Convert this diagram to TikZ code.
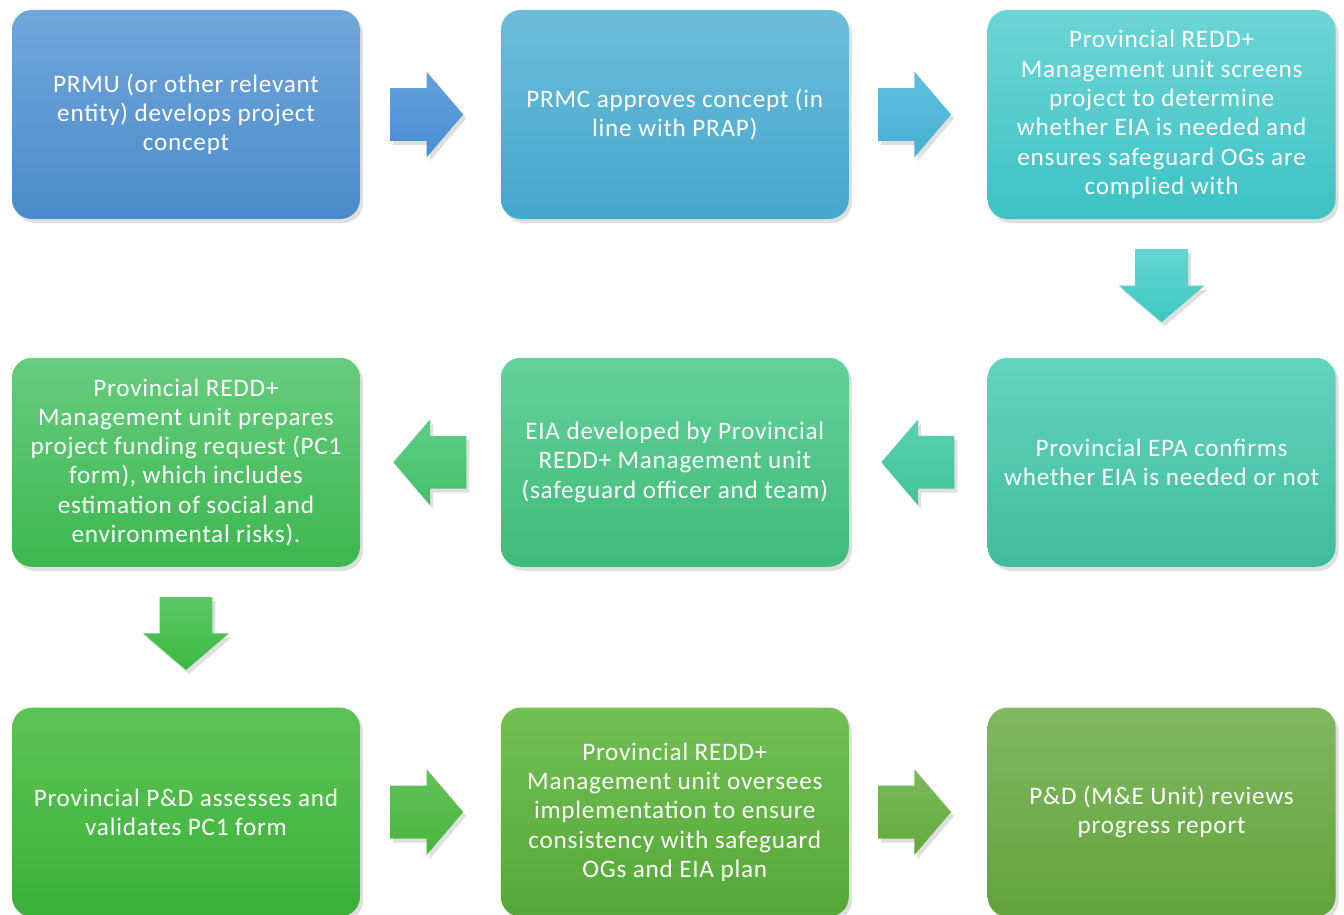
\documentclass[tikz,border=0pt]{standalone}
\usepackage{fontspec}
\setmainfont{Carlito}[LetterSpace=3]
\usepackage{tikz}
\usetikzlibrary{positioning}
\usetikzlibrary{shapes.arrows}
\usetikzlibrary{shadows}

\definecolor{blueA}{HTML}{71A6DB}
\definecolor{blueB}{HTML}{4A8BCB}
\definecolor{skyA}{HTML}{6CBDDA}
\definecolor{skyB}{HTML}{45A6CC}
\definecolor{aquaA}{HTML}{6DD5D5}
\definecolor{aquaB}{HTML}{3DC2C4}
\definecolor{tealA}{HTML}{63D4BE}
\definecolor{tealB}{HTML}{40BC9C}
\definecolor{mintA}{HTML}{63D199}
\definecolor{mintB}{HTML}{3FBB78}
\definecolor{leafA}{HTML}{66CC7E}
\definecolor{leafB}{HTML}{3DB74F}
\definecolor{grassA}{HTML}{5CC454}
\definecolor{grassB}{HTML}{3BB03A}
\definecolor{limeA}{HTML}{72BF52}
\definecolor{limeB}{HTML}{55A838}
\definecolor{oliveA}{HTML}{80B862}
\definecolor{oliveB}{HTML}{62A33A}
% arrow colours
\definecolor{arrA}{HTML}{62A1DE}
\definecolor{arrB}{HTML}{4A8CD2}
\definecolor{arrC}{HTML}{60C0DE}
\definecolor{arrD}{HTML}{47B0D4}
\definecolor{arrE}{HTML}{62D6D0}
\definecolor{arrF}{HTML}{40C8C0}
\definecolor{arrG}{HTML}{58D2B0}
\definecolor{arrH}{HTML}{40C496}
\definecolor{arrI}{HTML}{5ECE88}
\definecolor{arrJ}{HTML}{42C068}
\definecolor{arrK}{HTML}{5CC866}
\definecolor{arrL}{HTML}{3DB940}
\definecolor{arrM}{HTML}{62C258}
\definecolor{arrN}{HTML}{48B53C}
\definecolor{arrO}{HTML}{7ABA5A}
\definecolor{arrP}{HTML}{62AA3C}

\tikzset{
  stage/.style 2 args={rectangle, rounded corners=10pt, minimum width=174pt,
    minimum height=104.5pt, inner sep=0pt, align=center, text=white,
    font=\fontsize{12.6}{14.65}\selectfont, top color=#1, bottom color=#2,
    drop shadow={shadow xshift=1.5pt, shadow yshift=-2pt, opacity=0.25}},
  flow/.style 2 args={single arrow, minimum height=36.5pt, anchor=tail,
    single arrow head extend=8.25pt, single arrow tip angle=99,
    top color=#1, bottom color=#2,
    drop shadow={shadow xshift=1.5pt, shadow yshift=-2pt, opacity=0.25}},
  across/.style={inner xsep=0pt, inner ysep=13pt},
  backward/.style={inner xsep=0pt, inner ysep=13pt, shape border rotate=180},
  downward/.style={inner xsep=13pt, inner ysep=0pt, shape border rotate=270},
}

\begin{document}
\begin{tikzpicture}
    \useasboundingbox (0,0) rectangle (672pt,-457.5pt);
    % first row
    \node[stage={blueA}{blueB}] (concept) at (93pt,-57.25pt)
        {PRMU (or other relevant\\entity) develops project\\concept};
    \node[stage={skyA}{skyB}, right=70pt of concept] (approve)
        {PRMC approves concept (in\\line with PRAP)};
    \node[stage={aquaA}{aquaB}, right=69pt of approve] (screen)
        {Provincial REDD+\\Management unit screens\\project to determine\\whether EIA is needed and\\ensures safeguard OGs are\\complied with};
    % second row
    \node[stage={tealA}{tealB}, below=69pt of screen] (epa)
        {Provincial EPA confirms\\whether EIA is needed or not};
    \node[stage={mintA}{mintB}, left=69pt of epa] (eia)
        {EIA developed by Provincial\\REDD+ Management unit\\(safeguard officer and team)};
    \node[stage={leafA}{leafB}, left=70pt of eia] (pcone)
        {Provincial REDD+\\Management unit prepares\\project funding request (PC1\\form), which includes\\estimation of social and\\environmental risks).};
    % third row
    \node[stage={grassA}{grassB}, below=70pt of pcone] (assess)
        {Provincial P\&D assesses and\\validates PC1 form};
    \node[stage={limeA}{limeB}, right=70pt of assess] (oversee)
        {Provincial REDD+\\Management unit oversees\\implementation to ensure\\consistency with safeguard\\OGs and EIA plan};
    \node[stage={oliveA}{oliveB}, right=69pt of oversee] (review)
        {P\&D (M\&E Unit) reviews\\progress report};
    % block arrows, tail placed so that each arrow sits in the gap
    \path (concept.east) -- (approve.west) node[pos=0.21, flow={arrA}{arrB}, across] (a1) {};
    \path (approve.east) -- (screen.west) node[pos=0.206, flow={arrC}{arrD}, across] (a2) {};
    \path (screen.south) -- (epa.north) node[pos=0.213, flow={arrE}{arrF}, downward] (a3) {};
    \path (epa.west) -- (eia.east) node[pos=0.235, flow={arrG}{arrH}, backward] (a4) {};
    \path (eia.west) -- (pcone.east) node[pos=0.24, flow={arrI}{arrJ}, backward] (a5) {};
    \path (pcone.south) -- (assess.north) node[pos=0.21, flow={arrK}{arrL}, downward] (a6) {};
    \path (assess.east) -- (oversee.west) node[pos=0.21, flow={arrM}{arrN}, across] (a7) {};
    \path (oversee.east) -- (review.west) node[pos=0.206, flow={arrO}{arrP}, across] (a8) {};
\end{tikzpicture}
\end{document}
